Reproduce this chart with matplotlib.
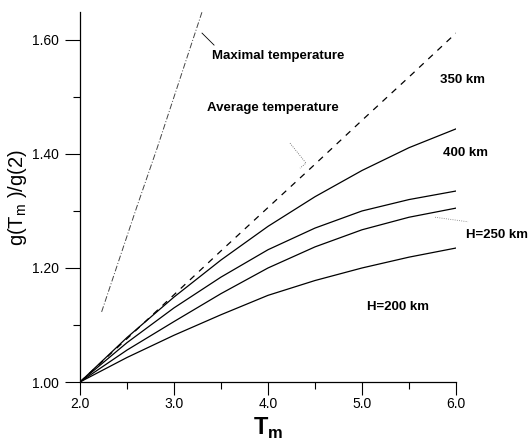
import matplotlib
matplotlib.use("Agg")
import matplotlib.pyplot as plt

plt.rcParams['font.family'] = ['Liberation Sans', 'DejaVu Sans']

# data
tm = [2.0, 2.5, 3.0, 3.5, 4.0, 4.5, 5.0, 5.5, 6.0]
avg_temp = [1.0, 1.076, 1.153, 1.23, 1.306, 1.382, 1.459, 1.535, 1.612]
h400 = [1.0, 1.078, 1.149, 1.214, 1.273, 1.325, 1.371, 1.411, 1.444]
h350 = [1.0, 1.069, 1.130, 1.184, 1.232, 1.270, 1.300, 1.320, 1.335]
h250 = [1.0, 1.056, 1.106, 1.155, 1.200, 1.237, 1.267, 1.289, 1.305]
h200 = [1.0, 1.043, 1.082, 1.118, 1.152, 1.178, 1.200, 1.219, 1.235]
max_tm = [2.23, 2.6, 2.82, 3.3]
max_temp = [1.123, 1.305, 1.41, 1.65]

fig = plt.figure(figsize=(5.29, 4.47), dpi=100)
ax = fig.add_axes([80/529, 65/447, 376/529, 370/447])

for g in (h400, h350, h250, h200):
    ax.plot(tm, g, color='black', lw=0.9)
ax.plot(tm, avg_temp, color='black', lw=0.9, dashes=(5, 5))
ax.plot(max_tm, max_temp, color='#444444', lw=0.7, dashes=(6, 2, 1, 2))

# leader lines
ax.plot([3.298, 3.426], [1.612, 1.591], color='black', lw=0.6)
ax.plot([4.234, 4.404, 4.34], [1.419, 1.384, 1.375], color='#555555', lw=0.6, ls=':')
ax.plot([5.777, 6.128], [1.289, 1.281], color='#777777', lw=0.6, ls=':', clip_on=False)

bold = dict(fontsize=9.5, fontweight='bold', va='center', ha='left')
ax.text(3.404, 1.572, 'Maximal temperature', **bold)
ax.text(3.351, 1.481, 'Average temperature', **bold)
ax.text(5.83, 1.530, '350 km', **bold)
ax.text(5.862, 1.402, '400 km', **bold)
ax.text(6.106, 1.258, 'H=250 km', **bold)
ax.text(5.053, 1.132, 'H=200 km', **bold)

ax.set_xlim(2.0, 6.0)
ax.set_ylim(1.0, 1.649)
ax.set_xticks([2.0, 3.0, 4.0, 5.0, 6.0])
ax.set_xticklabels(['2.0', '3.0', '4.0', '5.0', '6.0'])
ax.set_xticks([2.5, 3.5, 4.5, 5.5], minor=True)
ax.set_yticks([1.0, 1.2, 1.4, 1.6])
ax.set_yticklabels(['1.00', '1.20', '1.40', '1.60'])
ax.set_yticks([1.1, 1.3, 1.5], minor=True)
ax.tick_params(which='both', direction='out', width=0.8, labelsize=10)
ax.tick_params(axis='x', which='major', length=9, pad=2)
ax.tick_params(axis='y', which='major', length=11, pad=4)
ax.tick_params(which='minor', length=5)

for s in ('top', 'right'):
    ax.spines[s].set_visible(False)
for s in ('left', 'bottom'):
    ax.spines[s].set_linewidth(0.9)

ax.set_xlabel('T$_\\mathregular{m}$', fontsize=17, fontweight='bold', labelpad=3)
ax.set_ylabel('g(T$_\\mathregular{m}$ )/g(2)', fontsize=14.5, labelpad=2)

fig.savefig('out.png', dpi=100)
